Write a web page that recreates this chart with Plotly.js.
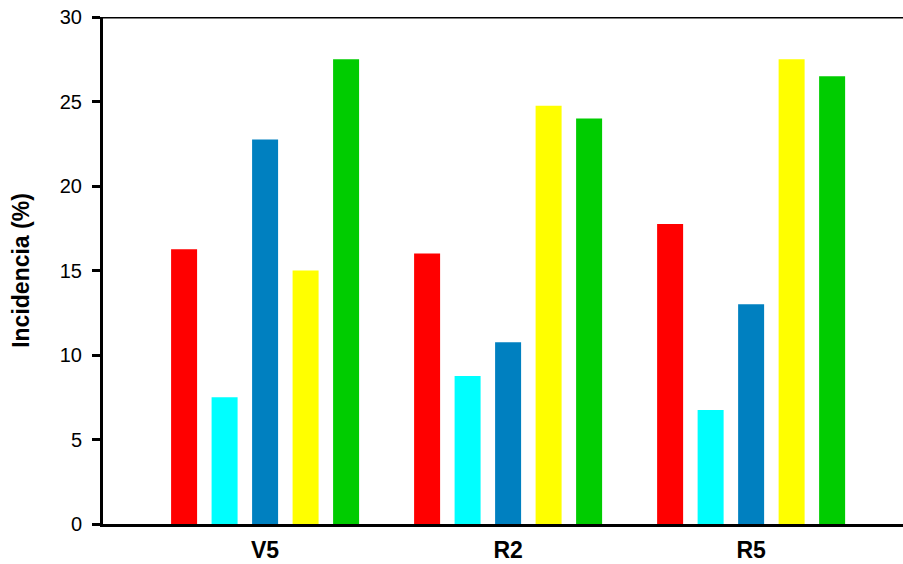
<!DOCTYPE html>
<html>
<head>
<meta charset="utf-8">
<script src="https://cdn.plot.ly/plotly-3.0.1.min.js"></script>
<style>html,body{margin:0;padding:0;background:#fff;}#chart{width:903px;height:564px;}</style>
</head>
<body>
<div id="chart"></div>
<script>
const categories = ["V5", "R2", "R5"];
const seriesNames = ["Serie 1", "Serie 2", "Serie 3", "Serie 4", "Serie 5"];
const seriesColors = ["#FF0000", "#00FFFF", "#0080C0", "#FFFF00", "#00CC00"];
const serie1 = [16.25, 16.0, 17.75];
const serie2 = [7.5, 8.75, 6.75];
const serie3 = [22.75, 10.75, 13.0];
const serie4 = [15.0, 24.75, 27.5];
const serie5 = [27.5, 24.0, 26.5];
const yTicks = [0, 5, 10, 15, 20, 25, 30];

const allSeries = [serie1, serie2, serie3, serie4, serie5];
const traces = allSeries.map((vals, i) => ({
  type: "bar",
  name: seriesNames[i],
  x: categories,
  y: vals,
  marker: {color: seriesColors[i], line: {width: 0}},
  hoverinfo: "y"
}));

const layout = {
  width: 903, height: 564,
  margin: {l: 103, r: 0, t: 17, b: 40, pad: 0},
  paper_bgcolor: "#fff", plot_bgcolor: "#fff",
  showlegend: false,
  barmode: "group",
  bargap: 0.1667,
  bargroupgap: 0.358,
  font: {family: "Liberation Sans, Arial, sans-serif", color: "#000"},
  xaxis: {
    type: "category",
    range: [-0.667, 2.625],
    showline: true, linecolor: "#000", linewidth: 3,
    ticks: "", showgrid: false, zeroline: false,
    tickfont: {size: 23, family: "Liberation Sans, Arial, sans-serif", weight: "bold"},
    ticklabelstandoff: 3
  },
  yaxis: {
    range: [0, 30],
    tickvals: yTicks,
    showline: true, linecolor: "#000", linewidth: 3,
    ticks: "outside", ticklen: 8, tickwidth: 3, tickcolor: "#000",
    showgrid: false, zeroline: false,
    tickfont: {size: 20},
    ticklabelstandoff: 6,
    title: {text: "<b>Incidencia (%)</b>", font: {size: 23}, standoff: 24}
  },
  shapes: [{
    type: "line", xref: "paper", yref: "y",
    x0: 0, x1: 1, y0: 30, y1: 30,
    line: {color: "#000", width: 3}
  }]
};

Plotly.newPlot("chart", traces, layout, {displayModeBar: false, staticPlot: true});
</script>
</body>
</html>
